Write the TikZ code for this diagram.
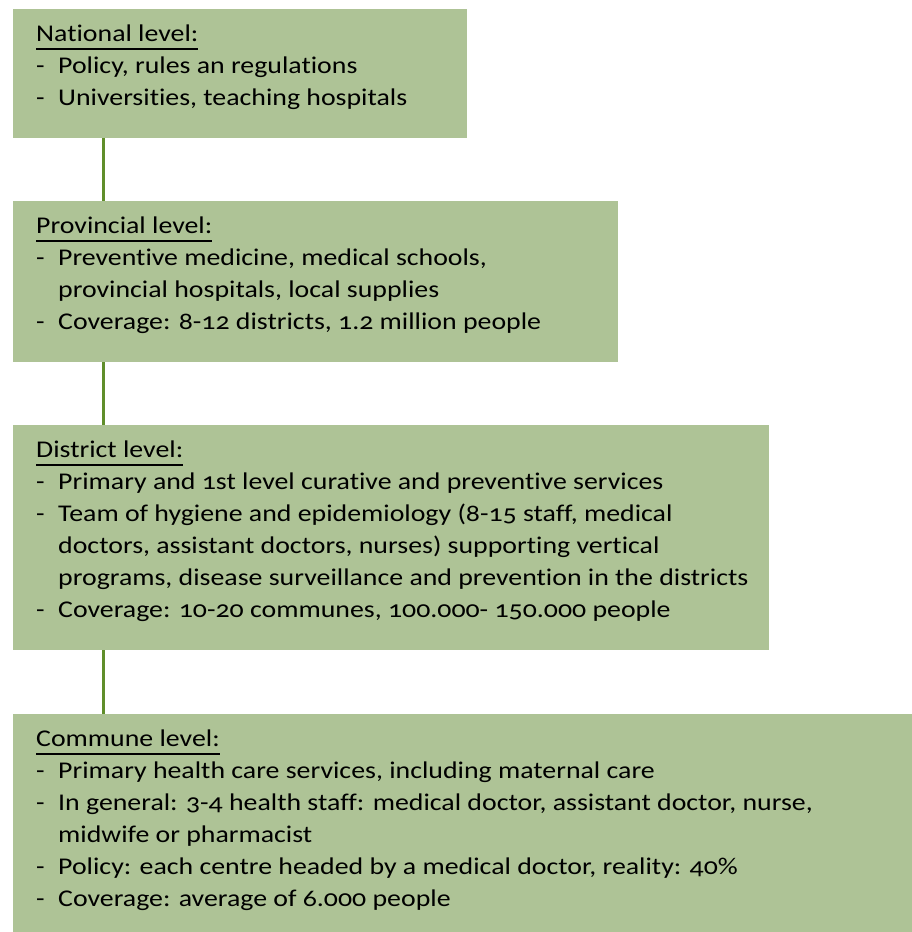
\documentclass[tikz,border=0pt]{standalone}
\usepackage{fontspec}
\setmainfont{Carlito}[Numbers=OldStyle, Ligatures=NoCommon, FakeStretch=1.16]
\definecolor{levelgreen}{RGB}{174,195,150}
\definecolor{linkgreen}{RGB}{96,142,42}
\newcommand{\levelhead}[1]{\setbox0\hbox{#1}\rlap{\rule[-8pt]{\wd0}{1.6pt}}\box0}
\newcommand{\bul}{\makebox[22pt][l]{-}}
\newcommand{\ind}{\hspace*{22pt}}

\begin{document}
\begin{tikzpicture}[
    level/.style ={fill=levelgreen, anchor=north west, inner sep=0pt},
    leveltext/.style ={anchor=north west, inner sep=0pt, align=left,
                       font=\fontsize{24}{32}\selectfont},
    link/.style ={draw=linkgreen, line width=3pt}]
   \useasboundingbox (0,0) rectangle (912pt,-932pt);

   \node[level, minimum width=454pt, minimum height=129pt] (natbox)  at (13pt,-9pt)   {};
   \node[level, minimum width=605pt, minimum height=161pt] (provbox) at (13pt,-201pt) {};
   \node[level, minimum width=756pt, minimum height=225pt] (distbox) at (13pt,-425pt) {};
   \node[level, minimum width=899pt, minimum height=218pt] (combox)  at (13pt,-714pt) {};

   \node[leveltext] (nattext) at ([shift={(23pt,-16pt)}]natbox.north west)
     {\levelhead{National level:}\\
      \bul Policy, rules an regulations\\
      \bul Universities, teaching hospitals};
   \node[leveltext] (provtext) at ([shift={(23pt,-16pt)}]provbox.north west)
     {\levelhead{Provincial level:}\\
      \bul Preventive medicine, medical schools,\\
      \ind provincial hospitals, local supplies\\
      \bul Coverage: 8-12 districts, 1.2 million people};
   \node[leveltext] (disttext) at ([shift={(23pt,-16pt)}]distbox.north west)
     {\levelhead{District level:}\\
      \bul Primary and 1st level curative and preventive services\\
      \bul Team of hygiene and epidemiology (8-15 staff, medical\\
      \ind doctors, assistant doctors, nurses) supporting vertical\\
      \ind programs, disease surveillance and prevention in the districts\\
      \bul Coverage: 10-20 communes, 100.000- 150.000 people};
   \node[leveltext] (comtext) at ([shift={(23pt,-16pt)}]combox.north west)
     {\levelhead{Commune level:}\\
      \bul Primary health care services, including maternal care\\
      \bul In general: 3-4 health staff: medical doctor, assistant doctor, nurse,\\
      \ind midwife or pharmacist\\
      \bul Policy: each centre headed by a medical doctor, reality: 40\%\\
      \bul Coverage: average of 6.000 people};

   \draw[link] ([xshift=90.5pt]natbox.south west)  -- ([xshift=90.5pt]provbox.north west);
   \draw[link] ([xshift=90.5pt]provbox.south west) -- ([xshift=90.5pt]distbox.north west);
   \draw[link] ([xshift=90.5pt]distbox.south west) -- ([xshift=90.5pt]combox.north west);
\end{tikzpicture}
\end{document}
